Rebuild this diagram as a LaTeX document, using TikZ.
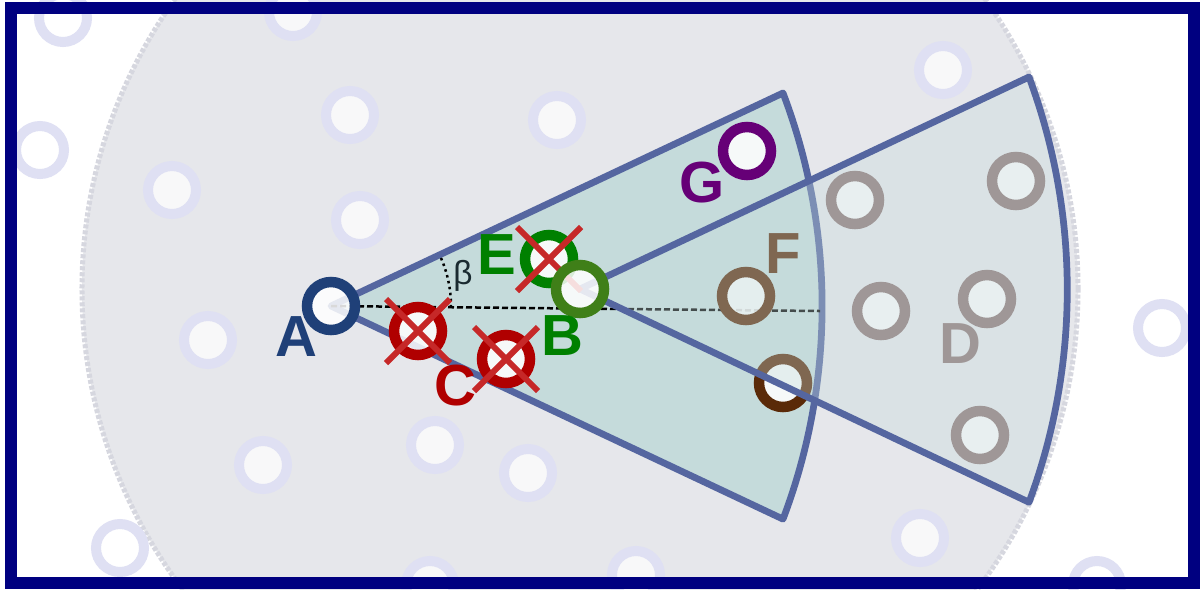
\documentclass[tikz,border=0pt]{standalone}
\usepackage{fontspec}
\setmainfont{Liberation Sans}
\usetikzlibrary{positioning}

\definecolor{frameblue}{HTML}{000080}
\definecolor{rangegray}{HTML}{E6E7EB}
\definecolor{rangeedge}{HTML}{D6D7DF}
\definecolor{ghostring}{HTML}{DFE0F3}
\definecolor{conefill}{HTML}{C5DBDB}
\definecolor{coneedge}{HTML}{5566A0}
\definecolor{colA}{HTML}{1F4078}
\definecolor{colE}{HTML}{008000}
\definecolor{colB}{HTML}{3F7F18}
\definecolor{colC}{HTML}{B00000}
\definecolor{crossred}{HTML}{C62828}
\definecolor{colG}{HTML}{660077}
\definecolor{colF}{HTML}{5A2A08}
\definecolor{colD}{HTML}{8C7474}
\definecolor{betatext}{HTML}{1A2A30}

\tikzset{
  ring/.style={circle, draw=#1, line width=2.1mm, minimum size=9.6mm, inner sep=0pt, fill=white, fill opacity=0.85},
  ghost/.style={circle, draw=ghostring, line width=2mm, minimum size=9.6mm, inner sep=0pt, fill=white, fill opacity=0.75},
  letter/.style={text=#1, font=\bfseries\fontsize{33}{33}\selectfont, inner sep=0pt},
  cone/.style={draw=coneedge, line width=1.35mm, line join=round},
  crossline/.style={draw=crossred, line width=1.2mm},
}

\begin{document}
\begin{tikzpicture}[x=0.2mm, y=-0.2mm]
\useasboundingbox (0,0) rectangle (1200,589);
\clip (0,0) rectangle (1200,589);
\fill [white] (0,0) rectangle (1200,589);
\coordinate (pA) at (331,306);
\coordinate (pB) at (580,289);

% range of B
\fill [rangegray] (pB) circle (99.6mm);
\draw [rangeedge, line width=1mm, dash pattern=on 0.8mm off 0.4mm] (pB) circle (99.6mm);

% other nodes
\foreach \x/\y [count=\i] in {63/18, 293/12, 943/70, 40/150, 350/115, 557/120, 172/190, 360/220, 208/340,
    1162/328, 263/465, 435/445, 528/473, 920/538, 120/548, 430/585, 636/575, 1097/585}
  \node [ghost] (g\i) at (\x,\y) {};

% first cone
\coordinate (c1t) at (783,93);
\coordinate (c1e) at (820,311);
\path [cone, fill=conefill] (pA) -- (c1t) arc[start angle=20.8, end angle=-20.8, radius=120mm] -- cycle;
\draw [line width=0.5mm, dash pattern=on 1.2mm off 0.6mm] (pA) -- (c1e);
\draw [line width=0.5mm, dotted] ([shift={(-0.6:24mm)}]pA) arc[start angle=-0.6, end angle=25.2, radius=24mm];
\node [text=betatext, font=\fontsize{19}{19}\selectfont, inner sep=0pt] (beta) at (463,276) {β};

% nodes under the second cone
\node [ring=colF] (nF) at (746,296) {};
\node [ring=colF] (nF2) at (783,383) {};
\node [letter=colF] (lF) at (783,254) {F};
\foreach \x/\y [count=\i] in {855/200, 1016/181, 881/311, 987/299, 980/435}
  \node [ring=colD] (nD\i) at (\x,\y) {};
\node [letter=colD] (lD) at (960,344) {D};

% second cone
\coordinate (c2t) at (1029,77);
\fill [conefill, fill opacity=0.35] (pB) -- (c2t) arc[start angle=20.4, end angle=-20.4, radius=122mm] -- cycle;
\draw [cone] (pB) -- (c2t) arc[start angle=20.4, end angle=-20.4, radius=122mm] -- cycle;

% main nodes
\node [ring=colA] (nA) at (pA) {};
\node [letter=colA] (lA) at (296,337) {A};
\node [ring=colC] (nC1) at (418,331) {};
\node [ring=colC] (nC2) at (506,359) {};
\node [letter=colC] (lC) at (455,386) {C};
\node [ring=colE] (nE) at (549,259) {};
\node [letter=colE] (lE) at (497,255) {E};
\foreach \n in {nC1, nC2, nE} {
  \draw [crossline] ([shift={(-6.4mm,-6.4mm)}]\n.center) -- ([shift={(6.4mm,6.4mm)}]\n.center);
  \draw [crossline] ([shift={(-6.4mm,6.4mm)}]\n.center) -- ([shift={(6.4mm,-6.4mm)}]\n.center);
}
\node [ring=colB] (nB) at (pB) {};
\node [letter=colE] (lB) at (562,336) {B};
\node [ring=colG] (nG) at (747,151) {};
\node [letter=colG] (lG) at (702,183) {G};

% frame
\draw [frameblue, line width=2.4mm] (11,8) rectangle (1194,583);
\end{tikzpicture}
\end{document}
